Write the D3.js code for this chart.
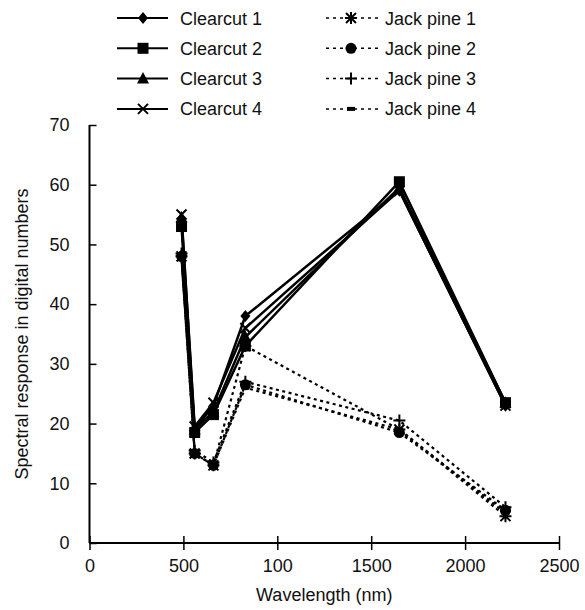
<!DOCTYPE html>
<html>
<head>
<meta charset="utf-8">
<script src="https://cdn.jsdelivr.net/npm/d3@7/dist/d3.min.js"></script>
<style>
  body { margin: 0; background: #fff; }
  svg { font-family: "Liberation Sans", Arial, sans-serif; }
</style>
</head>
<body>
<script>
(function() {

  // wavelengths of the bands (nm)
  var wavelengths = [490, 560, 660, 830, 1650, 2215];

  var clearcut1 = [48, 19, 23, 38, 59, 23];
  var clearcut2 = [53, 18.5, 21.5, 33, 60.5, 23.5];
  var clearcut3 = [54.5, 19, 22, 34.5, 59.5, 23.5];
  var clearcut4 = [55, 19.5, 23.5, 36, 59, 23];

  var jackpine1 = [48, 15, 13, 33, 19, 4.5];
  var jackpine2 = [48, 15, 13, 26.5, 18.5, 5.5];
  var jackpine3 = [48.5, 15.5, 13.5, 27, 20.5, 6];
  var jackpine4 = [47.5, 15, 13, 26, 19, 5];

  var seriesNames = ["Clearcut 1", "Clearcut 2", "Clearcut 3", "Clearcut 4",
                     "Jack pine 1", "Jack pine 2", "Jack pine 3", "Jack pine 4"];

  var xTickValues = [0, 500, 1000, 1500, 2000, 2500];
  var xTickLabels = ["0", "500", "100", "1500", "2000", "2500"];
  var yTickValues = [0, 10, 20, 30, 40, 50, 60, 70];

  var series = [
    {name: seriesNames[0], values: clearcut1, marker: "diamond", dashed: false},
    {name: seriesNames[1], values: clearcut2, marker: "square", dashed: false},
    {name: seriesNames[2], values: clearcut3, marker: "triangle", dashed: false},
    {name: seriesNames[3], values: clearcut4, marker: "times", dashed: false},
    {name: seriesNames[4], values: jackpine1, marker: "asterisk", dashed: true},
    {name: seriesNames[5], values: jackpine2, marker: "circle", dashed: true},
    {name: seriesNames[6], values: jackpine3, marker: "plus", dashed: true},
    {name: seriesNames[7], values: jackpine4, marker: "dash", dashed: true}
  ];

  var width = 585, height = 610;

  var svg = d3.select("body").append("svg")
      .attr("width", width)
      .attr("height", height);

  var x = d3.scaleLinear().domain([0, 2500]).range([89.5, 559]);
  var y = d3.scaleLinear().domain([0, 70]).range([543, 125]);

  // axes
  var xAxis = d3.axisBottom(x)
      .tickValues(xTickValues)
      .tickSize(7)
      .tickFormat(function(d, i) { return xTickLabels[i]; });

  var gx = svg.append("g")
      .attr("transform", "translate(0," + y(0) + ")")
      .call(xAxis);
  gx.select(".domain").attr("d", "M" + x(0) + ",0H" + x(2500)).attr("stroke-width", 2);
  gx.selectAll(".tick line").attr("y1", -7).attr("stroke-width", 1.5);
  gx.selectAll(".tick text")
      .attr("y", 16)
      .attr("font-size", 18)
      .attr("fill", "#111")
      .attr("font-family", "Liberation Sans, Arial, sans-serif");

  var yAxis = d3.axisLeft(y)
      .tickValues(yTickValues)
      .tickSize(9);

  var gy = svg.append("g")
      .attr("transform", "translate(" + x(0) + ",0)")
      .call(yAxis);
  gy.select(".domain").attr("d", "M0," + y(70) + "V" + y(0)).attr("stroke-width", 2);
  gy.selectAll(".tick line").attr("x2", 7).attr("stroke-width", 1.5);
  gy.selectAll(".tick text")
      .attr("x", -20)
      .attr("font-size", 18)
      .attr("fill", "#111")
      .attr("font-family", "Liberation Sans, Arial, sans-serif");

  svg.append("text")
      .attr("x", (x(0) + x(2500)) / 2)
      .attr("y", 601)
      .attr("text-anchor", "middle")
      .attr("font-size", 18)
      .attr("fill", "#111")
      .text("Wavelength (nm)");

  svg.append("text")
      .attr("transform", "translate(28," + ((y(0) + y(70)) / 2) + ") rotate(-90)")
      .attr("text-anchor", "middle")
      .attr("font-size", 18)
      .attr("fill", "#111")
      .text("Spectral response in digital numbers");

  // marker drawing
  function drawMarker(g, type, cx, cy) {
    switch (type) {
      case "diamond":
        g.append("path").attr("d", "M" + cx + "," + (cy - 6) + "L" + (cx + 5) + "," + cy +
          "L" + cx + "," + (cy + 6) + "L" + (cx - 5) + "," + cy + "Z").attr("fill", "#000");
        break;
      case "square":
        g.append("rect").attr("x", cx - 5.5).attr("y", cy - 5.5)
          .attr("width", 11).attr("height", 11).attr("fill", "#000");
        break;
      case "triangle":
        g.append("path").attr("d", "M" + cx + "," + (cy - 6.5) + "L" + (cx + 6) + "," + (cy + 5) +
          "L" + (cx - 6) + "," + (cy + 5) + "Z").attr("fill", "#000");
        break;
      case "times":
        g.append("path").attr("d", "M" + (cx - 5) + "," + (cy - 5) + "L" + (cx + 5) + "," + (cy + 5) +
          "M" + (cx + 5) + "," + (cy - 5) + "L" + (cx - 5) + "," + (cy + 5))
          .attr("stroke", "#000").attr("stroke-width", 2).attr("fill", "none");
        break;
      case "asterisk":
        g.append("path").attr("d", "M" + (cx - 5) + "," + (cy - 5) + "L" + (cx + 5) + "," + (cy + 5) +
          "M" + (cx + 5) + "," + (cy - 5) + "L" + (cx - 5) + "," + (cy + 5) +
          "M" + cx + "," + (cy - 6) + "L" + cx + "," + (cy + 6) +
          "M" + (cx - 6) + "," + cy + "L" + (cx + 6) + "," + cy)
          .attr("stroke", "#000").attr("stroke-width", 2).attr("fill", "none");
        break;
      case "circle":
        g.append("circle").attr("cx", cx).attr("cy", cy).attr("r", 5.5).attr("fill", "#000");
        break;
      case "plus":
        g.append("path").attr("d", "M" + cx + "," + (cy - 6) + "L" + cx + "," + (cy + 6) +
          "M" + (cx - 6) + "," + cy + "L" + (cx + 6) + "," + cy)
          .attr("stroke", "#000").attr("stroke-width", 2).attr("fill", "none");
        break;
      case "dash":
        g.append("rect").attr("x", cx - 4).attr("y", cy - 2)
          .attr("width", 8).attr("height", 4).attr("fill", "#000");
        break;
    }
  }

  var line = d3.line()
      .x(function(d, i) { return x(wavelengths[i]); })
      .y(function(d) { return y(d); });

  // jack pine first so clearcut lines sit on top
  var drawOrder = series.slice(4).concat(series.slice(0, 4));

  drawOrder.forEach(function(s) {
    var g = svg.append("g").attr("class", "series");
    g.append("path")
        .datum(s.values)
        .attr("d", line)
        .attr("fill", "none")
        .attr("stroke", "#000")
        .attr("stroke-width", s.dashed ? 2.2 : 2.5)
        .attr("stroke-dasharray", s.dashed ? "3,3.5" : null);
    s.values.forEach(function(v, i) {
      drawMarker(g, s.marker, x(wavelengths[i]), y(v));
    });
  });

  // legend
  var legend = svg.append("g").attr("class", "legend");
  series.forEach(function(s, i) {
    var col = i < 4 ? 0 : 1;
    var row = i % 4;
    var ly = 18 + row * 30.3;
    var x0 = col === 0 ? 117 : 326;
    var x1 = col === 0 ? 168 : 381;
    var mx = col === 0 ? 143 : 351;
    var tx = col === 0 ? 180 : 385;
    legend.append("line")
        .attr("x1", x0).attr("x2", x1)
        .attr("y1", ly).attr("y2", ly)
        .attr("stroke", "#000")
        .attr("stroke-width", s.dashed ? 1.5 : 2)
        .attr("stroke-dasharray", s.dashed ? "3,4" : null);
    drawMarker(legend, s.marker, mx, ly);
    legend.append("text")
        .attr("x", tx)
        .attr("y", ly + 6.5)
        .attr("font-size", 18)
        .attr("fill", "#111")
        .text(s.name);
  });

}());
</script>
</body>
</html>
